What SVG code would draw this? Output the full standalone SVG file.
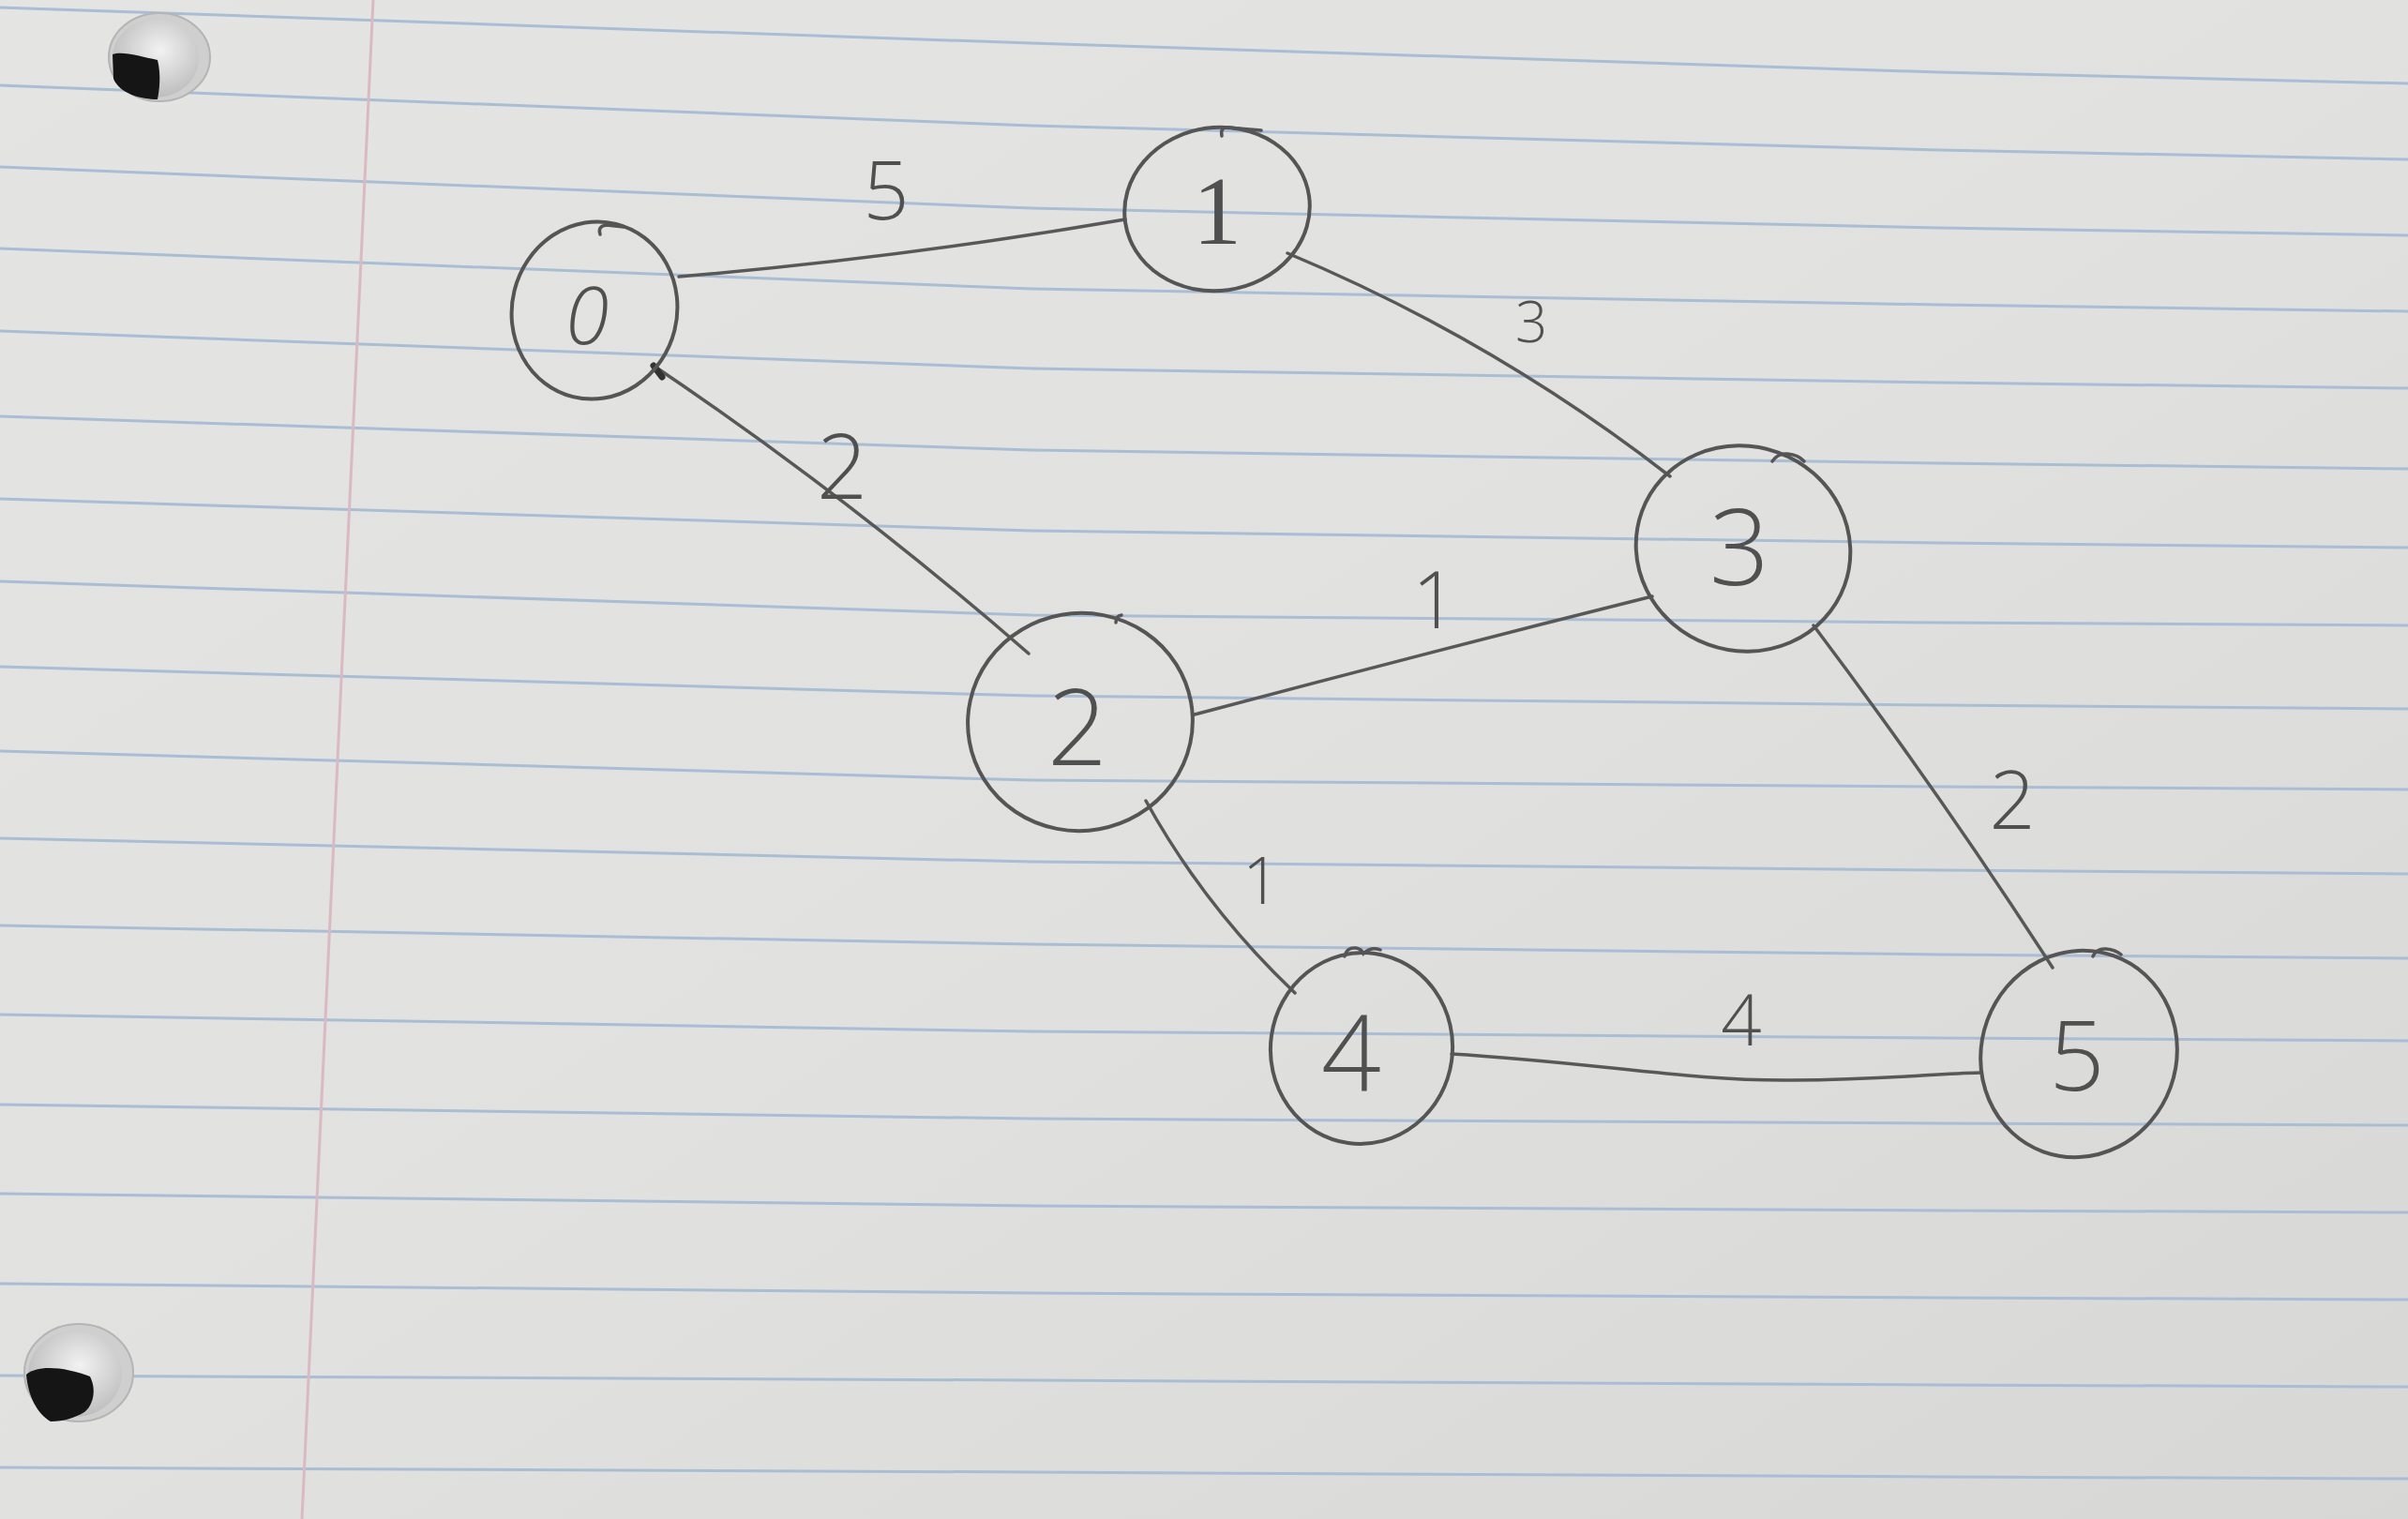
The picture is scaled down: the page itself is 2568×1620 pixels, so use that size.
<svg xmlns="http://www.w3.org/2000/svg" width="2568" height="1620" viewBox="0 0 2568 1620">
  <defs>
    <linearGradient id="paper" x1="0" y1="0" x2="1" y2="1">
      <stop offset="0" stop-color="#e4e4e3"/>
      <stop offset="0.5" stop-color="#e1e1e0"/>
      <stop offset="1" stop-color="#d7d7d6"/>
    </linearGradient>
    <radialGradient id="holeIn" cx="0.55" cy="0.4" r="0.6">
      <stop offset="0" stop-color="#f2f2f2"/>
      <stop offset="1" stop-color="#bdbdbd"/>
    </radialGradient>
    <style>
      .rule { fill: none; stroke: #a9bdd5; stroke-width: 3; }
      .margin { fill: none; stroke: #d9b9c2; stroke-width: 3; }
      .ring { fill: none; stroke: #555; stroke-width: 4; }
      .hook { fill: none; stroke: #555; stroke-width: 3.5; stroke-linecap: round; }
      .edge { fill: none; stroke: #585858; stroke-width: 3.5; stroke-linecap: round; }
      .num { font-family: "Open Sans", "Liberation Sans", sans-serif; font-weight: 300; fill: #505050; text-anchor: middle; dominant-baseline: central; }
    </style>
  </defs>

  <!-- sheet of ruled paper -->
  <rect x="0" y="0" width="2568" height="1620" fill="url(#paper)"/>
  <g id="ruling">
    <path class="rule" d="M0,8 L1100,46 L2068,77 L2568,89"/>
    <path class="rule" d="M0,91 L1100,134 L2068,160 L2568,170"/>
    <path class="rule" d="M0,178 L1100,222 L2068,243 L2568,251"/>
    <path class="rule" d="M0,265 L1100,308 L2068,325 L2568,332"/>
    <path class="rule" d="M0,353 L1100,393 L2068,408 L2568,414"/>
    <path class="rule" d="M0,444 L1100,480 L2068,494 L2568,500"/>
    <path class="rule" d="M0,532 L1100,566 L2068,579 L2568,584"/>
    <path class="rule" d="M0,620 L1100,656 L2068,664 L2568,667"/>
    <path class="rule" d="M0,711 L1100,742 L2068,752 L2568,756"/>
    <path class="rule" d="M0,801 L1100,832 L2068,839 L2568,842"/>
    <path class="rule" d="M0,894 L1100,919 L2068,928 L2568,932"/>
    <path class="rule" d="M0,987 L1100,1007 L2068,1018 L2568,1022"/>
    <path class="rule" d="M0,1082 L1100,1100 L2068,1107 L2568,1110"/>
    <path class="rule" d="M0,1178 L1100,1193 L2068,1198 L2568,1200"/>
    <path class="rule" d="M0,1273 L1100,1286 L2068,1291 L2568,1293"/>
    <path class="rule" d="M0,1369 L1100,1379 L2068,1384 L2568,1386"/>
    <path class="rule" d="M0,1467 L1100,1472 L2068,1477 L2568,1479"/>
    <path class="rule" d="M0,1565 L1100,1570 L2068,1575 L2568,1577"/>
    <path class="margin" d="M398,0 L322,1620"/>
  </g>

  <!-- punched binder holes -->
  <g id="holes">
    <ellipse cx="170" cy="61" rx="54" ry="47" fill="#cfcfcf" stroke="#b4b4b4" stroke-width="2"/>
    <ellipse cx="166" cy="62" rx="46" ry="42" fill="url(#holeIn)"/>
    <path d="M120,58 C130,54 150,60 168,64 C172,80 170,96 168,106 C150,106 128,100 121,84 Z" fill="#151515"/>
    <ellipse cx="84" cy="1464" rx="58" ry="52" fill="#cfcfcf" stroke="#b4b4b4" stroke-width="2"/>
    <ellipse cx="80" cy="1465" rx="50" ry="46" fill="url(#holeIn)"/>
    <path d="M28,1466 C40,1455 70,1458 96,1468 C104,1484 98,1500 90,1506 C80,1512 68,1516 54,1516 C40,1508 30,1490 28,1466 Z" fill="#151515"/>
  </g>

  <!-- weighted edges -->
  <g id="edges">
    <path class="edge" d="M724,295 Q962,275 1200,234"/>
    <path class="edge" d="M697,390 Q905,530 1097,697"/>
    <path d="M697,390 L706,402" stroke="#333" stroke-width="7" stroke-linecap="round"/>
    <path class="edge" d="M1373,270 Q1593,362 1781,508"/>
    <path class="edge" d="M1274,762 Q1518,697 1762,636"/>
    <path class="edge" d="M1222,854 Q1285,968 1381,1059"/>
    <path class="edge" d="M1934,667 Q2068,845 2189,1032"/>
    <path class="edge" d="M1548,1124 C1700,1133 1800,1153 1910,1152 S2060,1145 2112,1144"/>
    <text class="num" x="945" y="200" font-size="86">5</text>
    <text class="num" x="1633" y="342" font-size="60">3</text>
    <text class="num" x="898" y="495" font-size="95">2</text>
    <text class="num" x="1530" y="637" font-size="84">1</text>
    <text class="num" x="1345" y="937" font-size="70">1</text>
    <text class="num" x="2146" y="850" font-size="86">2</text>
    <text class="num" x="1857" y="1085" font-size="76">4</text>
  </g>

  <!-- vertices -->
  <g id="node-0">
    <ellipse class="ring" cx="634" cy="331" rx="88" ry="95" transform="rotate(14 634 331)"/>
    <path class="hook" d="M640,250 q-3,-9 7,-10 l18,2"/>
    <text class="num" x="626" y="334" font-size="84" font-style="italic">0</text>
  </g>
  <g id="node-1">
    <ellipse class="ring" cx="1298" cy="223" rx="99" ry="87" transform="rotate(-8 1298 223)"/>
    <path class="hook" d="M1303,145 q-2,-9 6,-9 l36,3"/>
    <text class="num" x="1298" y="224" font-size="104" style="font-family: 'Liberation Serif', serif; font-weight: normal;">1</text>
  </g>
  <g id="node-2">
    <ellipse class="ring" cx="1152" cy="770" rx="120" ry="116" transform="rotate(-10 1152 770)"/>
    <path class="hook" d="M1190,664 q0,-7 6,-8"/>
    <text class="num" x="1149" y="772" font-size="112">2</text>
  </g>
  <g id="node-3">
    <ellipse class="ring" cx="1859" cy="585" rx="115" ry="109" transform="rotate(20 1859 585)"/>
    <path class="hook" d="M1890,492 q6,-9 16,-8 q12,1 18,8"/>
    <text class="num" x="1855" y="580" font-size="112">3</text>
  </g>
  <g id="node-4">
    <ellipse class="ring" cx="1452" cy="1118" rx="97" ry="102" transform="rotate(8 1452 1118)"/>
    <path class="hook" d="M1434,1020 q2,-10 12,-9 q6,1 8,6 q8,-8 18,-4"/>
    <text class="num" x="1441" y="1120" font-size="112">4</text>
  </g>
  <g id="node-5">
    <ellipse class="ring" cx="2217" cy="1124" rx="104" ry="111" transform="rotate(20 2217 1124)"/>
    <path class="hook" d="M2232,1020 q4,-9 14,-8 q10,1 16,6"/>
    <text class="num" x="2215" y="1122" font-size="104">5</text>
  </g>
</svg>
